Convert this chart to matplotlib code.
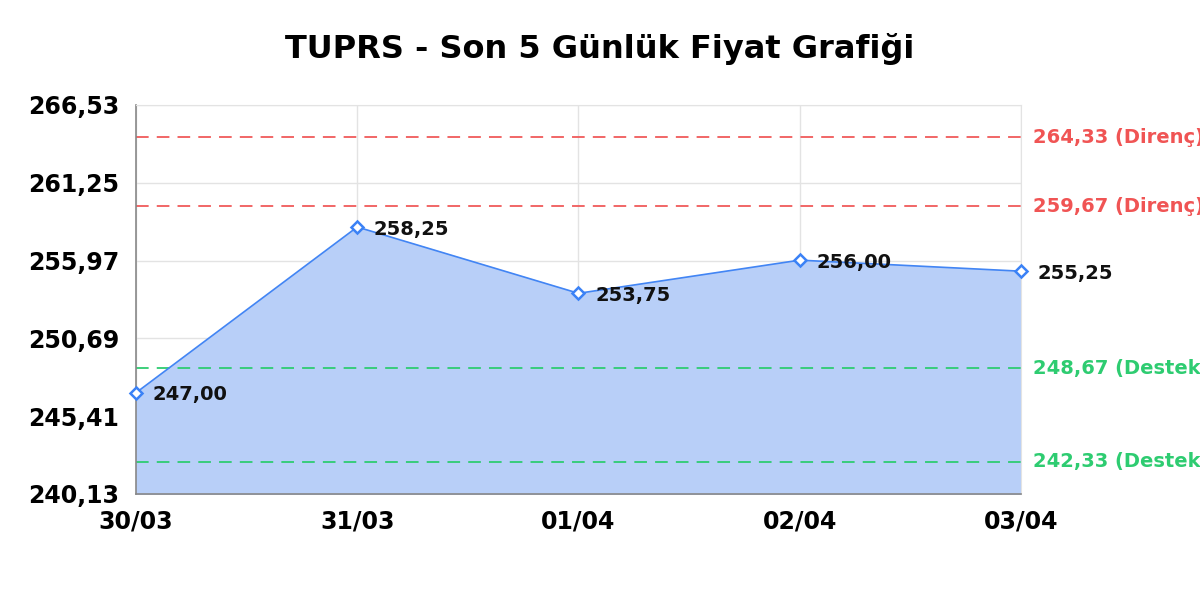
import numpy as np
from matplotlib import pyplot as plt

dates = ["30/03", "31/03", "01/04", "02/04", "03/04"]
prices = [247.00, 258.25, 253.75, 256.00, 255.25]
resistance = [264.33, 259.67]
support = [248.67, 242.33]
y_ticks = [240.13, 245.41, 250.69, 255.97, 261.25, 266.53]

def tr(v):
    return f"{v:.2f}".replace(".", ",")

plt.rcParams['font.family'] = 'DejaVu Sans'
fig = plt.figure(figsize=(12, 6), dpi=100)
ax = fig.add_axes([0.1133, 0.1767, 0.7375, 0.6483])

x = np.arange(len(dates))
ax.fill_between(x, prices, y_ticks[0], color='#b8cff8', zorder=1)
ax.plot(x, prices, color='#4285f4', lw=1.2, zorder=3)
ax.plot(x, prices, ls='none', marker='D', ms=6.5, mfc='white', mec='#3b82f6',
        mew=1.8, zorder=4, clip_on=False)

for xi, p in zip(x, prices):
    ax.annotate(tr(p), (xi, p), xytext=(12, -1.5), textcoords='offset points',
                ha='left', va='center', fontsize=14, fontweight='bold',
                color='#111111', zorder=5, annotation_clip=False)

for lvl in resistance:
    ax.axhline(lvl, color='#f05a5a', lw=1.3, ls=(0, (7, 4.5)), zorder=2)
    ax.annotate(f"{tr(lvl)} (Direnç)", xy=(1, lvl), xycoords=('axes fraction', 'data'),
                xytext=(9, 0), textcoords='offset points', ha='left', va='center',
                fontsize=14, fontweight='bold', color='#f05454', annotation_clip=False)
for lvl in support:
    ax.axhline(lvl, color='#2ecc71', lw=1.3, ls=(0, (7, 4.5)), zorder=2)
    ax.annotate(f"{tr(lvl)} (Destek)", xy=(1, lvl), xycoords=('axes fraction', 'data'),
                xytext=(9, 0), textcoords='offset points', ha='left', va='center',
                fontsize=14, fontweight='bold', color='#2ecc71', annotation_clip=False)

ax.set_xlim(0, len(dates) - 1)
ax.set_ylim(y_ticks[0], y_ticks[-1])
ax.set_xticks(x)
ax.set_xticklabels(dates, fontsize=17, fontweight='bold')
ax.set_yticks(y_ticks)
ax.set_yticklabels([tr(v) for v in y_ticks], fontsize=17, fontweight='bold')
ax.tick_params(axis='y', length=0, pad=12)
ax.tick_params(axis='x', length=0, pad=11)
ax.grid(True, color='#e3e3e3', lw=1, zorder=0)
ax.set_axisbelow(True)
for s in ['top', 'right']:
    ax.spines[s].set_color('#e3e3e3')
for s in ['left', 'bottom']:
    ax.spines[s].set_color('#888888')
    ax.spines[s].set_linewidth(1.2)

fig.text(0.5, 0.918, "TUPRS - Son 5 Günlük Fiyat Grafiği", ha='center', va='center',
         fontsize=23, fontweight='bold')

plt.savefig('out.png', dpi=100)
